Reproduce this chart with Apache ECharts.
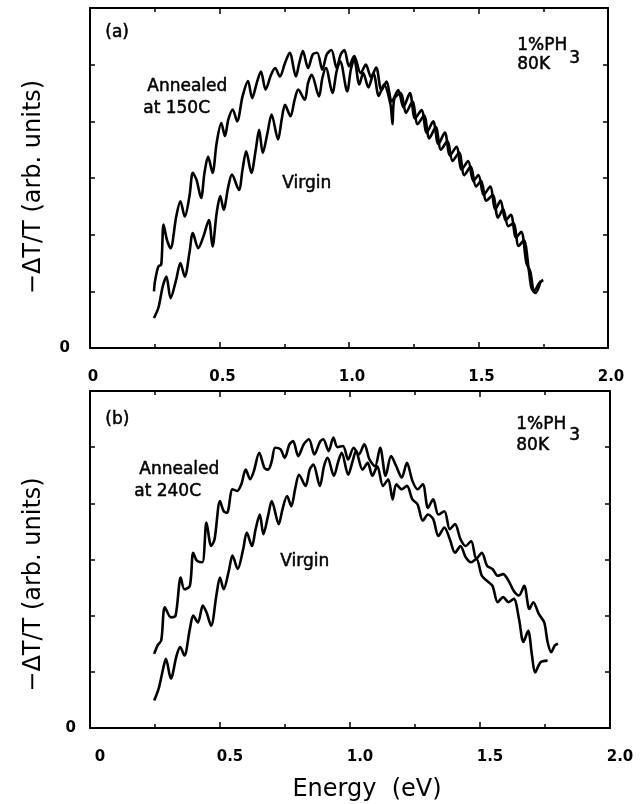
<!DOCTYPE html>
<html>
<head>
<meta charset="utf-8">
<script src="https://cdn.jsdelivr.net/npm/echarts/dist/echarts.min.js"></script>
<style>
  html, body { margin: 0; padding: 0; background: #fff; }
  #main { width: 642px; height: 804px; }
</style>
</head>
<body>
<div id="main"></div>
<script>
// energy (eV), -dT/T (arb. units)
const annealedA = [
  [0.247,1.0],[0.251,1.18],[0.264,1.44],[0.275,1.47],[0.284,2.18],[0.297,1.91],[0.311,1.76],[0.333,2.32],
  [0.349,2.59],[0.366,2.32],[0.384,2.68],[0.397,3.09],[0.411,2.97],[0.429,2.65],[0.442,3.09],[0.456,3.38],
  [0.473,3.09],[0.489,3.62],[0.507,3.97],[0.521,3.74],[0.534,4.03],[0.551,4.21],[0.568,4.0],[0.589,4.44],
  [0.610,4.71],[0.626,4.41],[0.644,4.68],[0.660,4.88],[0.678,4.56],[0.699,4.82],[0.715,4.94],[0.733,4.79],
  [0.753,5.03],[0.771,5.21],[0.795,4.79],[0.808,5.03],[0.822,5.24],[0.842,4.94],[0.860,5.18],[0.877,5.21],
  [0.897,4.91],[0.914,5.18],[0.932,5.26],[0.952,4.94],[0.968,5.18],[0.982,5.26],[1.0,4.97],[1.02,5.15],
  [1.045,4.85],[1.065,5.0],[1.085,4.78],[1.105,4.95],[1.125,4.55],[1.145,4.7],[1.165,4.35],[1.19,4.55],
  [1.21,4.25],[1.235,4.5],[1.255,4.05],[1.28,4.2],[1.30,3.8],[1.325,4.0],[1.345,3.6],[1.37,3.8],
  [1.39,3.4],[1.415,3.55],[1.435,3.15],[1.46,3.3],[1.48,2.95],[1.50,3.05],[1.52,2.7],[1.545,2.85],
  [1.565,2.45],[1.585,2.6],[1.605,2.25],[1.625,2.35],[1.645,1.95],[1.665,2.05],[1.685,1.5],[1.70,1.35],
  [1.715,1.0],[1.735,1.15],[1.75,1.2]
];
const virginA = [
  [0.247,0.53],[0.264,0.71],[0.281,1.09],[0.295,1.26],[0.311,0.88],[0.333,1.21],[0.349,1.5],[0.366,1.26],
  [0.384,1.68],[0.397,2.03],[0.418,1.76],[0.438,1.97],[0.459,2.26],[0.473,1.79],[0.489,2.38],[0.503,2.68],
  [0.516,2.44],[0.534,2.85],[0.548,3.06],[0.575,2.79],[0.589,3.15],[0.603,3.47],[0.623,3.09],[0.640,3.5],
  [0.653,3.85],[0.667,3.44],[0.685,3.79],[0.701,4.12],[0.726,3.68],[0.740,4.03],[0.753,4.29],[0.774,4.09],
  [0.790,4.38],[0.804,4.56],[0.829,4.38],[0.842,4.68],[0.856,4.82],[0.884,4.44],[0.897,4.76],[0.911,4.94],
  [0.936,4.5],[0.952,4.88],[0.966,5.06],[0.993,4.53],[1.007,4.91],[1.02,5.1],[1.04,4.65],[1.055,4.85],
  [1.075,4.6],[1.095,4.85],[1.115,4.45],[1.135,4.65],[1.16,4.3],[1.168,3.95],[1.175,4.4],[1.2,4.5],
  [1.22,4.15],[1.245,4.35],[1.265,3.95],[1.29,4.1],[1.31,3.7],[1.335,3.9],[1.355,3.5],[1.38,3.65],
  [1.40,3.3],[1.425,3.45],[1.445,3.05],[1.47,3.2],[1.49,2.85],[1.51,2.95],[1.53,2.6],[1.555,2.7],
  [1.575,2.3],[1.595,2.45],[1.615,2.15],[1.635,2.2],[1.655,1.8],[1.675,1.9],[1.695,1.35],[1.705,1.05],
  [1.72,0.97],[1.74,1.18]
];
const annealedB = [
  [0.247,1.32],[0.26,1.47],[0.274,1.56],[0.288,2.15],[0.311,1.97],[0.329,2.0],[0.349,2.68],[0.363,2.47],
  [0.384,2.53],[0.397,3.12],[0.411,2.98],[0.432,2.95],[0.448,3.66],[0.466,3.24],[0.479,3.36],[0.5,4.04],
  [0.514,3.86],[0.527,3.83],[0.548,4.25],[0.566,4.22],[0.582,4.34],[0.599,4.6],[0.616,4.43],[0.63,4.57],
  [0.651,4.9],[0.671,4.63],[0.685,4.6],[0.699,4.75],[0.712,4.99],[0.733,4.96],[0.749,4.81],[0.767,5.05],
  [0.781,5.11],[0.801,4.84],[0.822,5.05],[0.842,5.14],[0.863,4.87],[0.884,5.09],[0.897,5.14],[0.918,4.93],
  [0.936,5.17],[0.952,5.0],[0.973,5.02],[0.993,4.78],[1.014,4.99],[1.034,4.87],[1.055,5.05],[1.075,4.78],
  [1.096,4.66],[1.116,4.99],[1.137,4.49],[1.158,4.84],[1.178,4.66],[1.199,4.46],[1.219,4.72],[1.24,4.4],
  [1.26,4.25],[1.28,4.34],[1.30,3.92],[1.32,4.07],[1.34,3.8],[1.363,3.86],[1.384,3.54],[1.404,3.63],
  [1.425,3.36],[1.445,3.24],[1.466,3.33],[1.486,3.01],[1.507,3.12],[1.527,2.89],[1.548,2.83],[1.568,2.71],
  [1.589,2.74],[1.61,2.62],[1.63,2.44],[1.65,2.36],[1.67,2.53],[1.69,2.12],[1.705,2.24],[1.726,2.03],
  [1.747,1.88],[1.76,1.53],[1.774,1.35],[1.788,1.47],[1.80,1.5]
];
const virginB = [
  [0.247,0.49],[0.264,0.7],[0.281,1.05],[0.292,1.23],[0.311,0.88],[0.333,1.29],[0.347,1.44],[0.363,1.29],
  [0.384,1.76],[0.397,2.0],[0.415,1.88],[0.434,2.18],[0.448,2.06],[0.466,1.82],[0.486,2.36],[0.5,2.68],
  [0.514,2.47],[0.534,2.8],[0.548,3.07],[0.568,2.83],[0.589,3.18],[0.603,3.48],[0.623,3.24],[0.637,3.54],
  [0.653,3.8],[0.667,3.45],[0.685,3.78],[0.699,4.04],[0.726,3.63],[0.74,3.89],[0.758,4.13],[0.774,3.95],
  [0.79,4.28],[0.804,4.51],[0.829,4.31],[0.845,4.6],[0.859,4.69],[0.884,4.31],[0.9,4.66],[0.914,4.81],
  [0.938,4.49],[0.955,4.75],[0.968,4.9],[0.993,4.51],[1.01,4.75],[1.023,4.93],[1.048,4.6],[1.068,4.72],
  [1.086,4.49],[1.105,4.66],[1.127,4.31],[1.147,4.43],[1.164,4.07],[1.178,4.34],[1.199,4.25],[1.219,4.31],
  [1.24,4.07],[1.26,3.98],[1.28,3.69],[1.30,3.8],[1.32,3.72],[1.34,3.42],[1.363,3.57],[1.384,3.36],
  [1.404,3.12],[1.425,3.24],[1.445,3.04],[1.466,2.95],[1.486,3.01],[1.507,2.71],[1.527,2.62],[1.548,2.53],
  [1.568,2.24],[1.589,2.33],[1.61,2.24],[1.63,2.30],[1.65,1.94],[1.667,1.53],[1.685,1.73],[1.70,1.29],
  [1.712,0.99],[1.733,1.17],[1.76,1.2]
];

const xTicks = [0, 0.5, 1.0, 1.5, 2.0];
const xLabels = ['0', '0.5', '1.0', '1.5', '2.0'];
const yLabels = ['0'];

const ink = '#000';
const font = 'DejaVu Sans';

function xAxis(grid, pos, showLabel, shift) {
  return {
    type: 'value', gridIndex: grid, position: pos, min: 0, max: 2, interval: 0.5,
    axisLine: { show: true, onZero: false, lineStyle: { color: ink, width: 2 } },
    axisTick: { show: true, inside: true, length: 6, lineStyle: { color: ink, width: 1.5 } },
    minorTick: { show: true, splitNumber: 2, length: 4, lineStyle: { color: ink, width: 1.5 } },
    splitLine: { show: false },
    axisLabel: {
      show: showLabel, margin: 22, color: ink, fontFamily: font, fontSize: 15, fontWeight: 'bold',
      padding: [0, 0, 0, shift],
      formatter: v => xLabels[xTicks.indexOf(+v.toFixed(2))] || ''
    }
  };
}

function yAxis(grid, pos, showLabel, margin, nameShift) {
  return {
    type: 'value', gridIndex: grid, position: pos, min: 0, max: 6, interval: 1,
    axisLine: { show: true, onZero: false, lineStyle: { color: ink, width: 2 } },
    axisTick: { show: true, inside: true, length: 5, lineStyle: { color: ink, width: 1.5 } },
    splitLine: { show: false },
    axisLabel: {
      show: showLabel, margin: margin, color: ink, fontFamily: font, fontSize: 15, fontWeight: 'bold',
      formatter: v => v === 0 ? yLabels[0] : ''
    },
    name: showLabel ? '\u2212\u0394T/T (arb. units)' : '',
    nameLocation: 'middle', nameGap: 44, nameRotate: 90,
    nameTextStyle: { color: ink, fontFamily: font, fontSize: 24, padding: [0, nameShift || 0, 0, 0] }
  };
}

function curve(data, x, y) {
  return {
    type: 'line', data: data, xAxisIndex: x, yAxisIndex: y,
    showSymbol: false, smooth: 0.3, silent: true,
    lineStyle: { color: ink, width: 2.6 }
  };
}

function txt(text, left, top) {
  return { type: 'text', left: left, top: top, silent: true,
    style: { text: text, fill: ink, stroke: ink, lineWidth: 0.5, font: '17px "' + font + '"' } };
}

const chart = echarts.init(document.getElementById('main'));

const bottomX = xAxis(1, 'bottom', true, 20);
bottomX.name = 'Energy  (eV)';
bottomX.nameLocation = 'middle';
bottomX.nameGap = 50;
bottomX.nameTextStyle = { color: ink, fontFamily: font, fontSize: 24, padding: [0, 0, 0, 34] };

chart.setOption({
  animation: false,
  backgroundColor: '#fff',
  grid: [
    { left: 90, top: 8, width: 518, height: 340 },
    { left: 90, top: 391, width: 520, height: 337 }
  ],
  xAxis: [
    xAxis(0, 'bottom', true, 6),
    xAxis(0, 'top', false, 0),
    bottomX,
    xAxis(1, 'top', false, 0)
  ],
  yAxis: [
    yAxis(0, 'left', true, 20, 18),
    yAxis(0, 'right', false, 8),
    yAxis(1, 'left', true, 14, 50),
    yAxis(1, 'right', false, 8)
  ],
  series: [
    curve(annealedA, 0, 0),
    curve(virginA, 0, 0),
    curve(annealedB, 2, 2),
    curve(virginB, 2, 2)
  ],
  graphic: [
    txt('(a)', 105, 24),
    txt('Annealed', 147, 78),
    txt('at 150C', 143, 100),
    txt('Virgin', 282, 175),
    txt('1%PH', 517, 37),
    txt('3', 569, 50),
    txt('80K', 517, 56),
    txt('(b)', 105, 411),
    txt('Annealed', 139, 461),
    txt('at 240C', 134, 483),
    txt('Virgin', 280, 553),
    txt('1%PH', 516, 416),
    txt('3', 569, 427),
    txt('80K', 516, 437)
  ]
});
</script>
</body>
</html>
